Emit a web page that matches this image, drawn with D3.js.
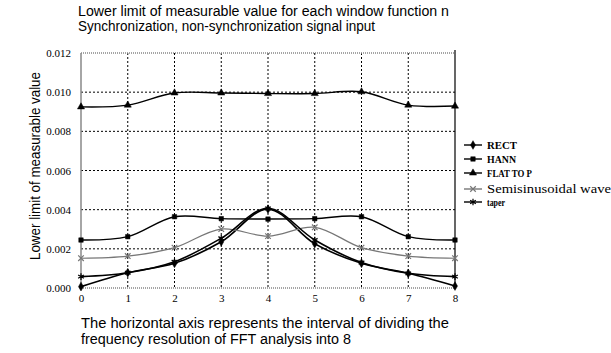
<!DOCTYPE html>
<html>
<head>
<meta charset="utf-8">
<script src="https://cdn.jsdelivr.net/npm/d3@7"></script>
<style>
  body { margin: 0; background: #fff; }
  svg text { fill: #000; }
</style>
</head>
<body>
<div id="chart"></div>
<script>
const intervals = [0, 1, 2, 3, 4, 5, 6, 7, 8];
const rect = [0.00007, 0.00078, 0.00126, 0.00236, 0.00403, 0.00226, 0.00126, 0.00075, 0.0001];
const hann = [0.00245, 0.00262, 0.00364, 0.00354, 0.00352, 0.00354, 0.00364, 0.00262, 0.00245];
const flatTop = [0.00925, 0.00934, 0.00996, 0.00996, 0.00993, 0.00993, 0.01002, 0.00934, 0.00929];
const semisin = [0.00152, 0.00163, 0.00206, 0.00301, 0.00265, 0.0031, 0.00206, 0.00163, 0.00152];
const taper = [0.00058, 0.00078, 0.00134, 0.00254, 0.00407, 0.00245, 0.0013, 0.00075, 0.00058];
const yTicks = [0, 0.002, 0.004, 0.006, 0.008, 0.01, 0.012];

const series = [
  {name: "RECT", values: rect, color: "#000", marker: "diamond", width: 1.6},
  {name: "HANN", values: hann, color: "#000", marker: "square", width: 1.4},
  {name: "FLAT TO P", values: flatTop, color: "#000", marker: "triangle", width: 1.4},
  {name: "Semisinusoidal wave", values: semisin, color: "#777", marker: "cross", width: 1.2},
  {name: "taper", values: taper, color: "#000", marker: "star", width: 1.6}
];

const W = 611, H = 353;
const margin = {top: 53, right: 156, bottom: 65, left: 81},
  width = W - margin.left - margin.right,
  height = H - margin.top - margin.bottom;

const root = d3.select("#chart").append("svg")
  .attr("width", W).attr("height", H);

const sans = "14px 'Liberation Sans', Arial, sans-serif";

// text that has to fill a known width in the original
function label(xp, yp, str, len) {
  return root.append("text").attr("x", xp).attr("y", yp)
    .attr("textLength", len).attr("lengthAdjust", "spacingAndGlyphs")
    .style("font", sans)
    .text(str);
}

label(78, 16, "Lower limit of measurable value for each window function n", 371);
label(78, 31, "Synchronization, non-synchronization signal input", 297);
label(81, 328, "The horizontal axis represents the interval of dividing the", 368);
label(81, 344, "frequency resolution of FFT analysis into 8", 270);

root.append("text")
  .attr("transform", `translate(40,166) rotate(-90)`)
  .attr("text-anchor", "middle")
  .attr("textLength", 188).attr("lengthAdjust", "spacingAndGlyphs")
  .style("font", sans)
  .text("Lower limit of measurable value");

const svg = root.append("g")
  .attr("transform", `translate(${margin.left},${margin.top})`);

const x = d3.scaleLinear().domain([0, 8]).range([0, width]);
const y = d3.scaleLinear().domain([0, 0.012]).range([height, 0]);

// grid
svg.append("g").selectAll("line")
  .data(yTicks.slice(1, -1))
  .join("line")
    .attr("x1", 0).attr("x2", width)
    .attr("y1", d => y(d)).attr("y2", d => y(d))
    .attr("stroke", "#000").attr("stroke-width", 1)
    .attr("stroke-dasharray", "2,2");
svg.append("g").selectAll("line")
  .data(intervals.slice(1, -1))
  .join("line")
    .attr("x1", d => x(d)).attr("x2", d => x(d))
    .attr("y1", 0).attr("y2", height)
    .attr("stroke", "#000").attr("stroke-width", 1)
    .attr("stroke-dasharray", "2,2");

// frame
svg.append("line").attr("x1", 0).attr("x2", width).attr("y1", 0).attr("y2", 0)
  .attr("stroke", "#888").attr("stroke-width", 1.5).attr("stroke-dasharray", "1,1");
svg.append("line").attr("x1", 0).attr("x2", width).attr("y1", height).attr("y2", height)
  .attr("stroke", "#888").attr("stroke-width", 1.5).attr("stroke-dasharray", "1,1");
svg.append("line").attr("x1", 0).attr("x2", 0).attr("y1", 0).attr("y2", height)
  .attr("stroke", "#888").attr("stroke-width", 1.5);
svg.append("line").attr("x1", width).attr("x2", width).attr("y1", -3).attr("y2", height)
  .attr("stroke", "#000").attr("stroke-width", 1.2);

// axes
const yAxis = svg.append("g")
  .call(d3.axisLeft(y).tickValues(yTicks).tickFormat(d3.format(".3f")).tickSize(0).tickPadding(10));
yAxis.select(".domain").remove();
yAxis.selectAll("text").style("font", "11px 'Liberation Serif', 'Times New Roman', serif");

const xAxis = svg.append("g")
  .attr("transform", `translate(0,${height})`)
  .call(d3.axisBottom(x).tickValues(intervals).tickFormat(d3.format("d")).tickSize(0).tickPadding(6));
xAxis.select(".domain").remove();
xAxis.selectAll("text").style("font", "11px 'Liberation Serif', 'Times New Roman', serif");

const symbolFor = {
  diamond: d3.symbol().type(d3.symbolDiamond).size(22),
  square: d3.symbol().type(d3.symbolSquare).size(20),
  triangle: d3.symbol().type(d3.symbolTriangle).size(22),
  cross: d3.symbol().type(d3.symbolTimes).size(22),
  star: d3.symbol().type(d3.symbolAsterisk).size(30)
};

const line = d3.line()
  .x((d, i) => x(intervals[i]))
  .y(d => y(d))
  .curve(d3.curveCatmullRom.alpha(0.5));

series.forEach(s => {
  svg.append("path")
    .datum(s.values)
    .attr("fill", "none")
    .attr("stroke", s.color)
    .attr("stroke-width", s.width)
    .attr("d", line);
  const stroked = s.marker === "cross" || s.marker === "star";
  svg.append("g").selectAll("path")
    .data(s.values)
    .join("path")
      .attr("transform", (d, i) => `translate(${x(intervals[i])},${y(d)})`)
      .attr("d", symbolFor[s.marker])
      .attr("fill", stroked ? "none" : s.color)
      .attr("stroke", s.color)
      .attr("stroke-width", stroked ? 1.2 : 0.5);
});

// legend
const legend = root.append("g").attr("transform", "translate(464,145)");
const legendFont = ["bold 10px", "bold 10px", "bold 10px", "13px", "bold 10px"];
const legendLen = [30, 29, 45, 124, 18];
const legendY = [0, 14, 28, 44, 57];
series.forEach((s, i) => {
  const g = legend.append("g").attr("transform", `translate(0,${legendY[i]})`);
  g.append("line").attr("x1", 0).attr("x2", 18).attr("y1", 0).attr("y2", 0)
    .attr("stroke", s.color).attr("stroke-width", 1.4);
  const stroked = s.marker === "cross" || s.marker === "star";
  g.append("path").attr("transform", "translate(9,0)")
    .attr("d", symbolFor[s.marker])
    .attr("fill", stroked ? "none" : s.color)
    .attr("stroke", s.color)
    .attr("stroke-width", stroked ? 1.2 : 0.5);
  g.append("text").attr("x", 23).attr("y", 4)
    .attr("textLength", legendLen[i]).attr("lengthAdjust", "spacingAndGlyphs")
    .style("font", legendFont[i] + " 'Liberation Serif', 'Times New Roman', serif")
    .text(s.name);
});
</script>
</body>
</html>
